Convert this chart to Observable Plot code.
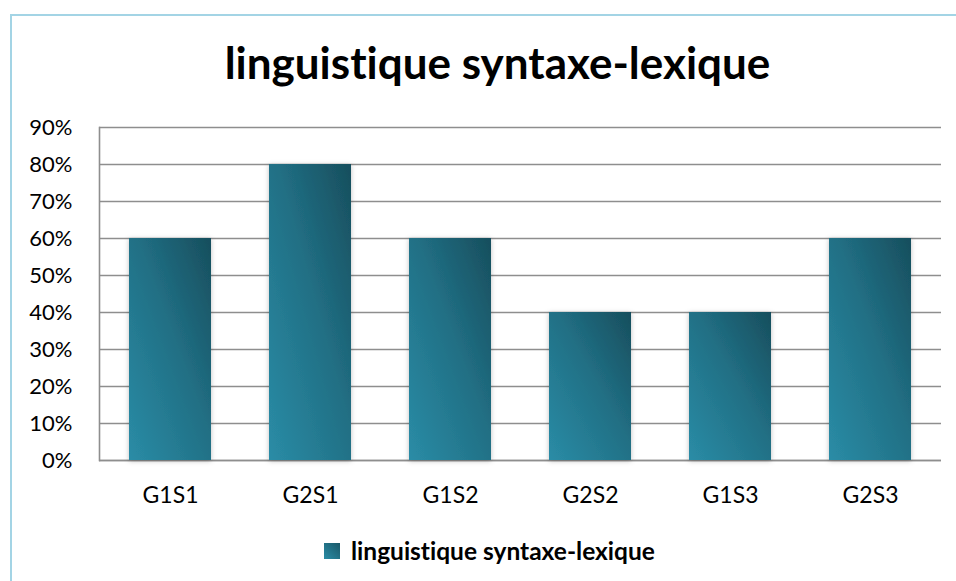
<!DOCTYPE html>
<html>
<head>
<meta charset="utf-8">
<script src="https://cdn.jsdelivr.net/npm/d3@7"></script>
<script src="https://cdn.jsdelivr.net/npm/@observablehq/plot@0.6"></script>
<style>
  html, body { margin: 0; padding: 0; background: #fff; }
  #page { position: relative; width: 956px; height: 581px; overflow: hidden; font-family: Lato, "Open Sans", sans-serif; font-variant-ligatures: none; font-feature-settings: "liga" 0, "clig" 0; }
  #frame { position: absolute; left: 10px; top: 14px; width: 1000px; height: 700px; border-left: 2px solid #a3d4e5; border-top: 2px solid #a3d4e5; box-sizing: border-box; }
  #title { position: absolute; left: 0; top: 40px; width: 995px; text-align: center; font-weight: bold; font-size: 44px; color: #000; line-height: 1; }
  #chart { position: absolute; left: 0; top: 110px; }
  #legend { position: absolute; left: 324px; top: 536px; display: flex; align-items: center; font-weight: bold; font-size: 24.5px; color: #000; }
  #legend .sw { width: 16px; height: 16px; margin-right: 11px; background: linear-gradient(45deg, #2a8ca6, #1a5868); }
</style>
</head>
<body>
<div id="page">
  <div id="frame"></div>
  <div id="title">linguistique syntaxe-lexique</div>
  <div id="chart"></div>
  <div id="legend"><span class="sw"></span><span>linguistique syntaxe-lexique</span></div>
</div>
<script>
const categories = ["G1S1", "G2S1", "G1S2", "G2S2", "G1S3", "G2S3"];
const values = [0.6, 0.8, 0.6, 0.4, 0.4, 0.6];
const yTicks = [0, 0.1, 0.2, 0.3, 0.4, 0.5, 0.6, 0.7, 0.8, 0.9];
const seriesName = "linguistique syntaxe-lexique";

const data = categories.map((c, i) => ({ cat: c, v: values[i] }));

const chart = Plot.plot({
  width: 956,
  height: 400,
  marginLeft: 99,
  marginRight: 15,
  marginTop: 17,
  marginBottom: 50,
  style: { fontFamily: "Lato, 'Open Sans', sans-serif", fontSize: "22px", color: "#000", background: "transparent", overflow: "visible" },
  x: { domain: categories, paddingInner: 0.415, paddingOuter: 0.207, label: null },
  y: { domain: [0, 0.9], ticks: yTicks, tickFormat: d3.format(".0%"), label: null },
  marks: [
    Plot.gridY(yTicks, { stroke: "#8e8e8e", strokeOpacity: 1, strokeWidth: 1.6 }),
    Plot.frame({ anchor: "left", stroke: "#8e8e8e", strokeWidth: 1.6 }),
    Plot.ruleY([0], { stroke: "#8e8e8e", strokeWidth: 1.6 }),
    Plot.barY(data, { x: "cat", y: "v", fill: "url(#barGrad)" }),
    Plot.axisY(yTicks, { tickSize: 0, tickPadding: 27, tickFormat: d3.format(".0%"), fontSize: 22, fill: "#000" }),
    Plot.axisX({ tickSize: 0, tickPadding: 26, fontSize: 23, fill: "#000" })
  ]
});

const svg = d3.select(chart);
const defs = svg.insert("defs", ":first-child");
const grad = defs.append("linearGradient").attr("id", "barGrad")
  .attr("x1", 0).attr("y1", 1).attr("x2", 1).attr("y2", 0);
grad.append("stop").attr("offset", "0%").attr("stop-color", "#2a8ca6");
grad.append("stop").attr("offset", "55%").attr("stop-color", "#216f84");
grad.append("stop").attr("offset", "100%").attr("stop-color", "#174e5d");
const f = defs.append("filter").attr("id", "sh").attr("x", "-20%").attr("y", "-5%").attr("width", "140%").attr("height", "112%");
f.append("feDropShadow").attr("dx", 0).attr("dy", 1).attr("stdDeviation", 2.5).attr("flood-color", "#000").attr("flood-opacity", 0.25);
svg.selectAll("g[aria-label='bar'] rect").attr("filter", "url(#sh)");

document.getElementById("chart").appendChild(chart);
</script>
</body>
</html>
